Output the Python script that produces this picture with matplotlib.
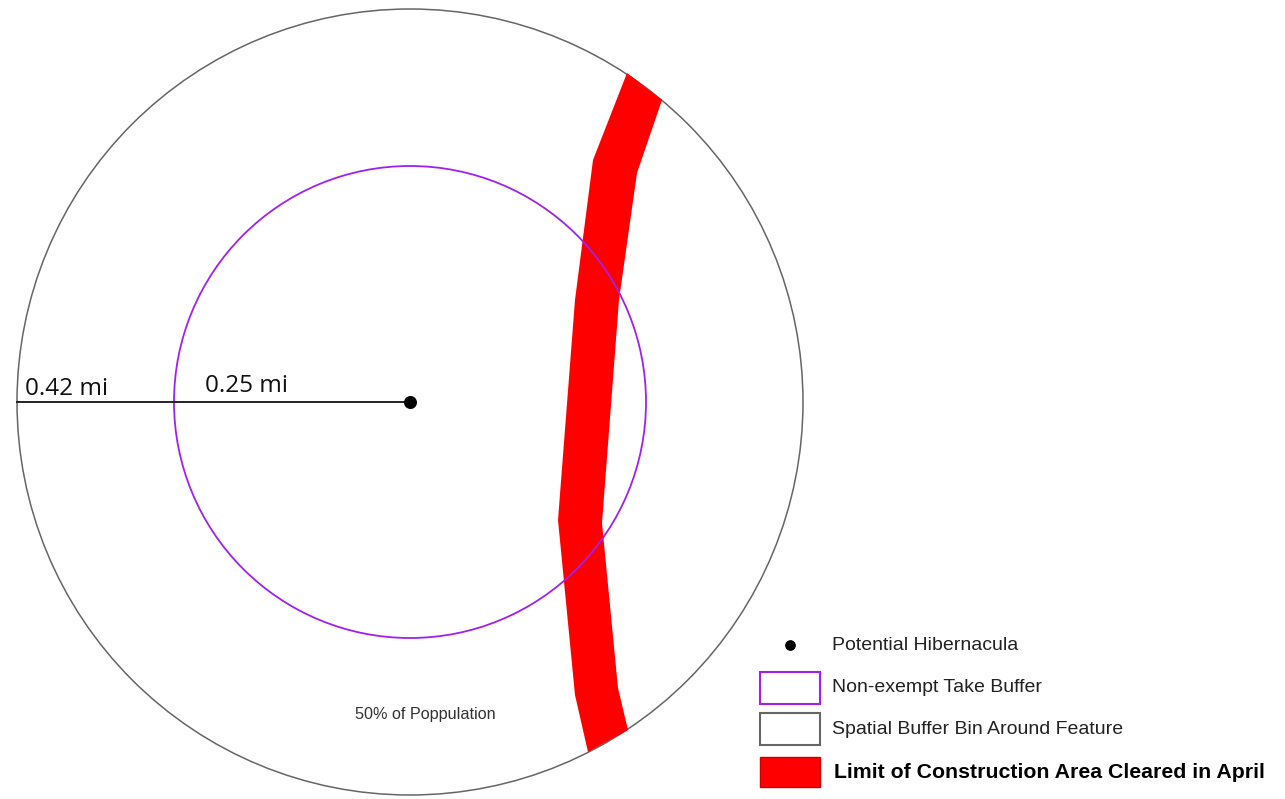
import matplotlib.pyplot as plt
from matplotlib.patches import Circle, Polygon, Rectangle

# map geometry (image pixel units, y down)
centre = (410, 402)
outer_radius = 393          # 0.42 mi spatial buffer
inner_radius = 236          # 0.25 mi take buffer
radius_labels = ["0.42 mi", "0.25 mi"]

# construction corridor outline: left edge top->bottom, then right edge bottom->top
corridor_left = [(627, 73), (593, 160), (575, 300), (558, 520), (575, 695), (588, 752)]
corridor_right = [(662, 100), (637, 173), (619, 300), (602, 523), (618, 688), (628, 730)]

legend_labels = ["Potential Hibernacula", "Non-exempt Take Buffer",
                 "Spatial Buffer Bin Around Feature",
                 "Limit of Construction Area Cleared in April"]
note = "50% of Poppulation"

PURPLE = "#a020f0"
GREY = "#666666"
RED = "#ff0000"

fig = plt.figure(figsize=(12.85, 7.99), dpi=100)
ax = fig.add_axes([0, 0, 1, 1])
ax.set_xlim(0, 1285)
ax.set_ylim(799, 0)
ax.set_aspect("equal")
ax.axis("off")

# buffers
ax.add_patch(Circle(centre, outer_radius, fill=False, edgecolor=GREY, lw=1.1, zorder=1))
ax.add_patch(Circle(centre, inner_radius, fill=False, edgecolor=PURPLE, lw=1.3, zorder=3))

# corridor
poly = corridor_left + corridor_right[::-1]
ax.add_patch(Polygon(poly, closed=True, facecolor=RED, edgecolor="none", zorder=2))

# radius line + hibernaculum
ax.plot([centre[0] - outer_radius, centre[0]], [centre[1], centre[1]], color="#222222", lw=1.4, zorder=4)
ax.scatter([centre[0]], [centre[1]], s=70, color="black", zorder=5)
ax.text(centre[0] - outer_radius + 8, centre[1] - 7, radius_labels[0], fontsize=17.5,
        family="Open Sans", va="baseline", color="#111111")
ax.text(centre[0] - inner_radius + 31, centre[1] - 10, radius_labels[1], fontsize=17.5,
        family="Open Sans", va="baseline", color="#111111")

ax.text(355, 715, note, fontsize=11.7, family="Liberation Sans", va="center", color="#333333")

# legend
row_y = [645, 688, 729, 772]
ax.scatter([790], [row_y[0]], s=45, color="black", zorder=5)
ax.add_patch(Rectangle((760, row_y[1] - 16), 60, 32, facecolor="white", edgecolor=PURPLE, lw=1.5))
ax.add_patch(Rectangle((760, row_y[2] - 16), 60, 32, facecolor="white", edgecolor=GREY, lw=1.5))
ax.add_patch(Rectangle((760, row_y[3] - 15), 60, 30, facecolor=RED, edgecolor="#cc0000", lw=1.0))
for i, (lab, y) in enumerate(zip(legend_labels, row_y)):
    ax.text(832 if i < 3 else 834, y, lab, fontsize=14 if i < 3 else 15.3,
            family="Liberation Sans", va="center",
            color="#222222" if i < 3 else "black",
            fontweight="bold" if i == 3 else "normal")

fig.savefig("out.png", dpi=100)
